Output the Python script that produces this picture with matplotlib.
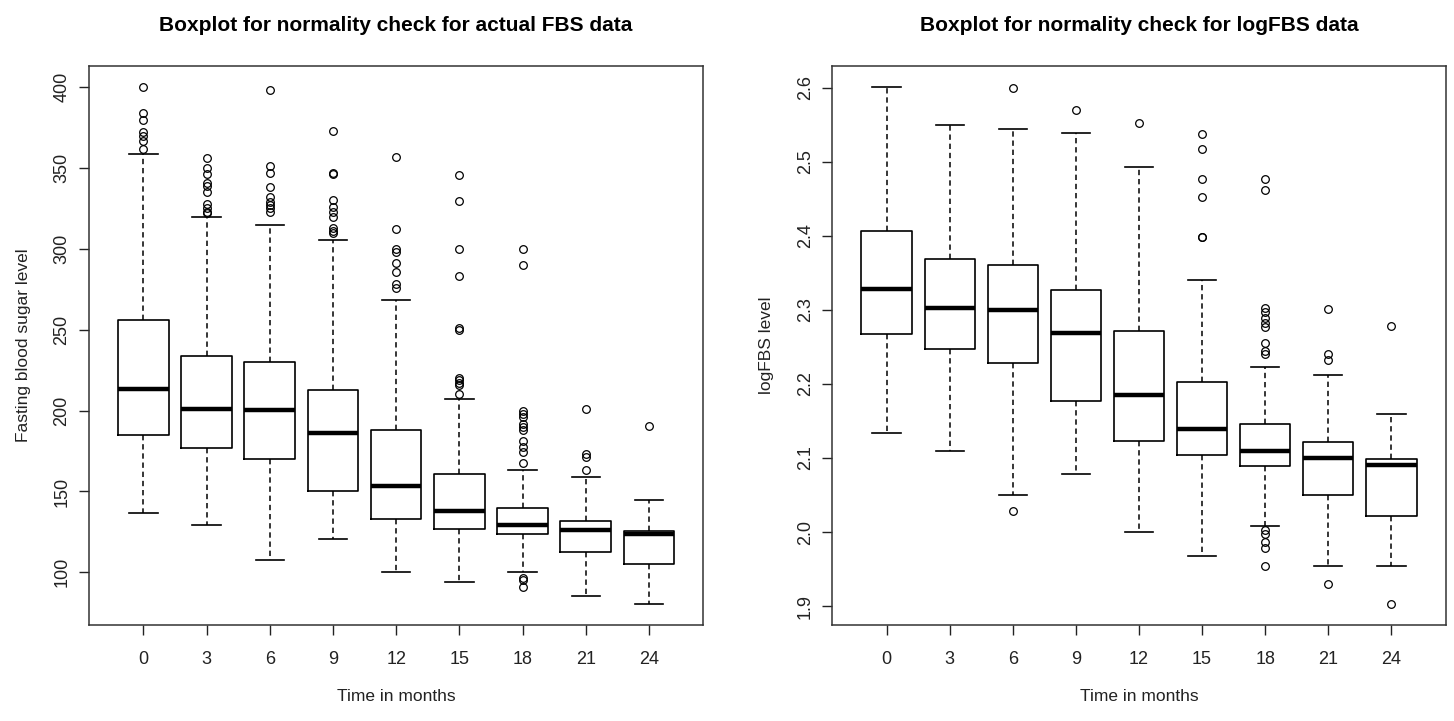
import matplotlib
matplotlib.use('Agg')
import matplotlib.pyplot as plt

plt.rcParams['font.family'] = ['Liberation Sans', 'DejaVu Sans']

months = [0, 3, 6, 9, 12, 15, 18, 21, 24]

# actual FBS
fbs_lo = [136.5, 129.5, 107.5, 120.5, 100.5, 94, 100, 85.5, 80.5]
fbs_q1 = [185, 177, 170, 150, 133, 127, 123.5, 112.5, 105]
fbs_med = [213.5, 201, 200.5, 186, 153.5, 138, 129.5, 126, 123.5]
fbs_q3 = [256, 234, 230, 213, 188, 160.5, 140, 132, 125.5]
fbs_hi = [358.5, 320, 314.5, 305.5, 268.5, 207, 163.5, 159, 145]
fbs_out = [
    [400, 384, 380, 372, 370, 367, 362],
    [356, 350, 346, 341, 339, 335, 328, 325, 323, 322],
    [398, 351, 347, 338, 332, 329, 327, 325, 323],
    [373, 347, 346, 330, 326, 323, 320, 313, 311, 310],
    [357, 312, 300, 298, 291, 285.5, 278, 276],
    [345.5, 329.5, 300, 283.5, 251, 250, 220, 219, 217, 216, 210],
    [300, 290, 200, 198, 196, 192, 190, 188, 181, 177.5, 174.5, 167.5, 96.5, 95.5, 91],
    [201, 173, 171, 163.5],
    [190.5],
]

# log FBS
log_lo = [2.134, 2.1095, 2.050, 2.079, 2.000, 1.968, 2.008, 1.954, 1.954]
log_q1 = [2.267, 2.247, 2.229, 2.177, 2.123, 2.104, 2.089, 2.050, 2.021]
log_med = [2.328, 2.302, 2.300, 2.2685, 2.185, 2.139, 2.110, 2.100, 2.090]
log_q3 = [2.407, 2.369, 2.361, 2.327, 2.272, 2.203, 2.146, 2.121, 2.099]
log_hi = [2.601, 2.550, 2.545, 2.539, 2.493, 2.340, 2.2225, 2.212, 2.160]
log_out = [
    [],
    [],
    [2.600, 2.028],
    [2.570],
    [2.552],
    [2.538, 2.517, 2.4775, 2.452, 2.399, 2.398],
    [2.4775, 2.462, 2.302, 2.297, 2.289, 2.282, 2.2775, 2.255, 2.245, 2.241,
     2.003, 1.997, 1.987, 1.978, 1.954],
    [2.301, 2.2405, 2.233, 1.930],
    [2.278, 1.903],
]

fbs_ticks = [100, 150, 200, 250, 300, 350, 400]
log_ticks = [1.9, 2.0, 2.1, 2.2, 2.3, 2.4, 2.5, 2.6]


def draw(ax, lo, q1, med, q3, hi, out, yticks, ylabels, ylim, title, ylabel):
    stats = []
    for a, b, c, d, e, f in zip(lo, q1, med, q3, hi, out):
        stats.append(dict(whislo=a, q1=b, med=c, q3=d, whishi=e, fliers=f))
    pos = list(range(1, len(stats) + 1))
    ax.bxp(stats, positions=pos, widths=0.8, capwidths=0.45, manage_ticks=False,
           boxprops=dict(color='black', lw=1.2),
           whiskerprops=dict(color='black', lw=1.1, linestyle=(0, (3.5, 2.5))),
           capprops=dict(color='black', lw=1.2),
           medianprops=dict(color='black', lw=3.2, solid_capstyle='butt'),
           flierprops=dict(marker='o', markerfacecolor='none', markeredgecolor='black',
                           markersize=5.5, markeredgewidth=0.9, linestyle='none'))
    ax.set_xlim(0.14, len(stats) - 0.14 + 1)
    ax.set_ylim(*ylim)
    ax.set_xticks(pos)
    ax.set_xticklabels([str(m) for m in months])
    ax.set_yticks(yticks)
    ax.set_yticklabels(ylabels, rotation=90, va='center')
    ax.tick_params(axis='both', direction='out', length=7.5, width=1.0,
                   labelsize=13, colors='#222222')
    ax.tick_params(axis='x', pad=11)
    ax.tick_params(axis='y', pad=6)
    for s in ax.spines.values():
        s.set_linewidth(1.1)
        s.set_color('#333333')
    ax.set_title(title, fontsize=15, fontweight='bold', pad=25)
    ax.set_xlabel('Time in months', fontsize=12.5, labelpad=15, color='#222222')
    ax.set_ylabel(ylabel, fontsize=12.5, labelpad=16, color='#222222')


fig = plt.figure(figsize=(14.54, 7.21), dpi=100)
ax1 = fig.add_axes([0.0612, 0.1331, 0.4225, 0.7754])
ax2 = fig.add_axes([0.5725, 0.1331, 0.4217, 0.7754])

draw(ax1, fbs_lo, fbs_q1, fbs_med, fbs_q3, fbs_hi, fbs_out,
     fbs_ticks, [str(t) for t in fbs_ticks], (67.4, 413.1),
     'Boxplot for normality check for actual FBS data', 'Fasting blood sugar level')
draw(ax2, log_lo, log_q1, log_med, log_q3, log_hi, log_out,
     log_ticks, ['%.1f' % t for t in log_ticks], (1.8743, 2.6297),
     'Boxplot for normality check for logFBS data', 'logFBS level')

fig.savefig('out.png', dpi=100)
